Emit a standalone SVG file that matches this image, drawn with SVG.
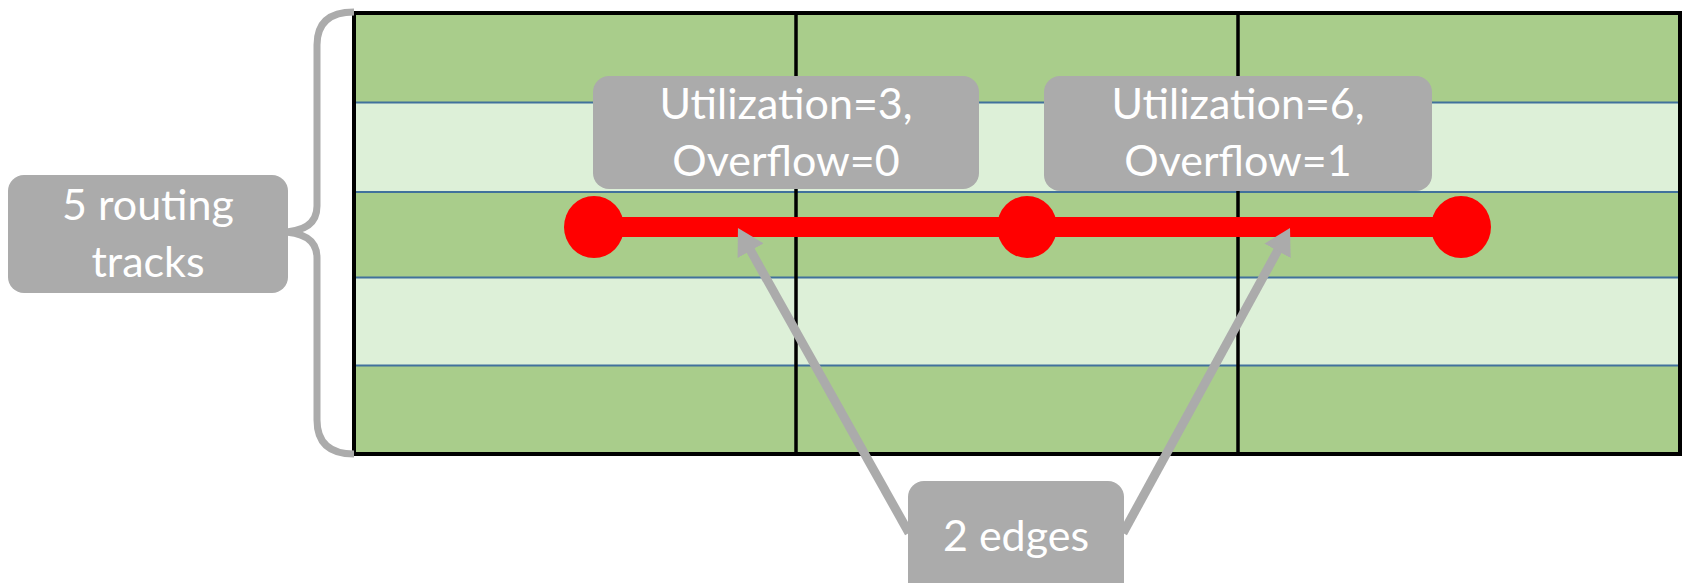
<svg xmlns="http://www.w3.org/2000/svg" width="1684" height="583" viewBox="0 0 1684 583">
  <defs>
    <style>
      .row-dark { fill: #A9CD8B; }
      .row-light { fill: #DDF0D8; }
      .track { stroke: #41719C; stroke-width: 2; }
      .cell { stroke: #000; stroke-width: 3.5; }
      .frame { fill: none; stroke: #000; stroke-width: 4; }
      .box { fill: #ABABAB; }
      .label { fill: #FFFFFF; font-family: Lato, "Open Sans", sans-serif; font-size: 43px; text-anchor: middle; }
      .gray-line { fill: none; stroke: #ABABAB; stroke-width: 9; }
      .net { stroke: #FF0000; stroke-width: 20; }
      .pin { fill: #FF0000; }
    </style>
    <marker id="head" markerUnits="userSpaceOnUse" markerWidth="28" markerHeight="30" refX="11" refY="15" orient="auto">
      <path d="M0,0 L26,15 L0,30 Z" fill="#ABABAB"/>
    </marker>
  </defs>

  <!-- routing grid: 3 bins, 5 tracks -->
  <g id="grid">
    <rect class="row-dark" x="354" y="13" width="1326" height="89.5"/>
    <rect class="row-light" x="354" y="102.5" width="1326" height="89.5"/>
    <rect class="row-dark" x="354" y="192" width="1326" height="85.5"/>
    <rect class="row-light" x="354" y="277.5" width="1326" height="88"/>
    <rect class="row-dark" x="354" y="365.5" width="1326" height="88.5"/>
    <line class="track" x1="354" y1="102.5" x2="1680" y2="102.5"/>
    <line class="track" x1="354" y1="192" x2="1680" y2="192"/>
    <line class="track" x1="354" y1="277.5" x2="1680" y2="277.5"/>
    <line class="track" x1="354" y1="365.5" x2="1680" y2="365.5"/>
    <line class="cell" x1="796" y1="13" x2="796" y2="454"/>
    <line class="cell" x1="1238" y1="13" x2="1238" y2="454"/>
    <rect class="frame" x="354" y="13" width="1326" height="441"/>
  </g>

  <!-- brace spanning the tracks -->
  <g id="brace">
    <path class="gray-line" style="stroke-width:7" d="M354,12 Q317,12 317,45 L317,206 Q317,232 280,232 Q317,232 317,258 L317,420 Q317,454 354,454"/>
  </g>

  <!-- two-pin net across the bins -->
  <g id="net">
    <line class="net" x1="594" y1="227" x2="1461" y2="227"/>
    <ellipse class="pin" cx="594" cy="227" rx="30" ry="31"/>
    <ellipse class="pin" cx="1027" cy="227" rx="30" ry="31"/>
    <ellipse class="pin" cx="1461" cy="227" rx="30" ry="31"/>
  </g>

  <g id="tracks-label">
    <rect class="box" x="8" y="175" width="280" height="118" rx="16"/>
    <text class="label" x="148" y="220">5 routing</text>
    <text class="label" x="148" y="277">tracks</text>
  </g>

  <g id="edge1-label">
    <rect class="box" x="593" y="76" width="386" height="113" rx="16"/>
    <text class="label" x="786" y="119">Utilization=3,</text>
    <text class="label" x="786" y="176">Overflow=0</text>
  </g>

  <g id="edge2-label">
    <rect class="box" x="1044" y="76" width="388" height="115" rx="16"/>
    <text class="label" x="1238" y="119">Utilization=6,</text>
    <text class="label" x="1238" y="176">Overflow=1</text>
  </g>

  <g id="connectors">
    <line class="gray-line" x1="909" y1="533" x2="745.3" y2="241.1" marker-end="url(#head)"/>
    <line class="gray-line" x1="1123" y1="533" x2="1282.8" y2="241.2" marker-end="url(#head)"/>
  </g>

  <g id="edges-label">
    <rect class="box" x="908" y="481" width="216" height="120" rx="16"/>
    <text class="label" x="1016" y="551">2 edges</text>
  </g>
</svg>
